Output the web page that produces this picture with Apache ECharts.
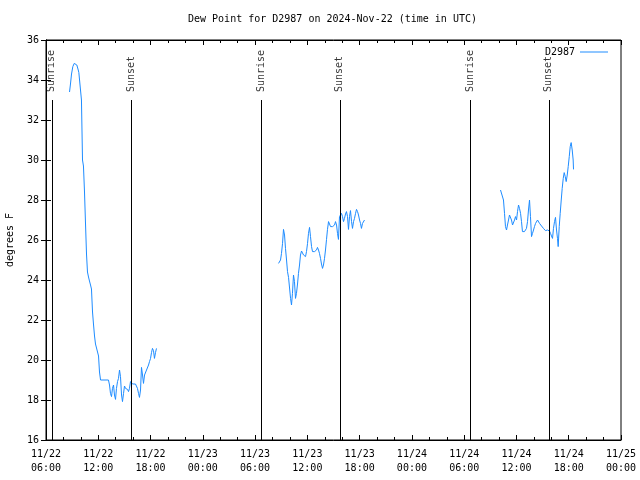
<!DOCTYPE html>
<html><head><meta charset="utf-8">
<script src="https://cdn.jsdelivr.net/npm/echarts@6/dist/echarts.min.js"></script>
<style>html,body{margin:0;padding:0;background:#fff}#c{width:640px;height:480px}</style>
</head><body><div id="c"></div>
<script>
// hours after 2024-11-22 06:00 UTC
const hours1 = [2.70,2.81,2.93,3.08,3.24,3.39,3.54,3.70,3.77,3.96,4.07,4.19,4.30,4.42,4.53,4.65,4.76,4.88,4.99,5.11,5.22,5.34,5.45,5.57,5.68,5.80,5.91,6.03,6.14,6.26,7.17,7.29,7.40,7.52,7.63,7.75,7.86,7.98,8.09,8.21,8.32,8.44,8.55,8.67,8.78,8.90,9.01,9.13,9.24,9.36,9.47,9.58,9.70,9.81,9.93,10.04,10.27,10.39,10.50,10.62,10.73,10.85,10.96,11.08,11.19,11.31,11.42,11.54,11.65,11.77,11.88,12.00,12.11,12.22,12.34,12.45,12.57,12.68];
const dew1 = [33.4,33.8,34.3,34.67,34.83,34.92,34.75,34.5,34.37,34.33,33.0,30.0,29.7,28.4,26.9,25.3,24.4,24.15,23.95,23.75,23.55,22.4,21.8,21.2,20.8,20.6,20.5,20.2,19.4,19.0,19.0,18.75,18.33,18.17,18.58,18.75,18.25,18.03,18.58,18.92,19.08,19.5,19.17,18.25,17.92,18.33,18.7,18.58,18.63,18.53,18.42,18.58,18.92,18.83,18.8,18.8,18.8,18.75,18.58,18.33,18.13,18.5,19.63,19.25,18.83,19.25,19.33,19.5,19.58,19.75,19.92,20.08,20.37,20.58,20.47,20.08,20.37,20.58];
const hours2 = [26.69,26.92,27.03,27.15,27.26,27.38,27.49,27.61,27.72,27.84,27.95,28.07,28.18,28.29,28.41,28.52,28.64,28.75,28.87,28.98,29.10,29.21,29.33,29.44,29.56,29.67,29.79,29.90,30.02,30.13,30.25,30.36,30.48,30.59,30.82,31.05,31.16,31.28,31.39,31.51,31.62,31.74,31.85,31.97,32.08,32.20,32.31,32.43,32.54,32.66,32.89,33.00,33.12,33.23,33.35,33.46,33.57,33.69,33.80,33.92,34.03,34.15,34.26,34.38,34.49,34.61,34.72,34.84,34.95,35.07,35.18,35.30,35.41,35.53,35.64,35.76,35.87,35.99,36.10,36.21,36.33,36.44,36.56];
const dew2 = [24.83,25.0,25.33,25.83,26.53,26.25,25.58,25.0,24.42,24.13,24.03,23.08,22.75,23.33,24.25,23.92,23.08,23.33,23.8,24.33,24.75,25.25,25.45,25.42,25.25,25.17,25.17,25.42,25.83,26.33,26.63,26.17,25.67,25.42,25.42,25.5,25.63,25.5,25.33,25.08,24.8,24.58,24.75,25.08,25.5,26.03,26.53,26.92,26.83,26.67,26.67,26.67,26.75,26.92,26.75,26.33,26.03,27.17,27.25,27.33,27.17,26.92,27.08,27.3,27.42,27.17,26.53,27.17,27.47,26.92,26.58,26.92,27.08,27.33,27.53,27.42,27.25,27.0,26.83,26.58,26.83,26.92,27.0];
const hours3 = [52.17,52.36,52.51,52.63,52.74,52.86,52.97,53.09,53.20,53.32,53.43,53.55,53.66,53.78,53.89,54.01,54.12,54.24,54.35,54.47,54.58,54.69,54.81,54.92,55.04,55.15,55.27,55.38,55.50,55.61,55.73,55.84,55.96,56.07,56.19,56.30,56.42,56.53,56.65,56.88,57.10,57.33,57.45,57.56,57.68,57.79,57.91,58.02,58.14,58.25,58.37,58.48,58.60,58.71,58.79,58.91,59.02,59.14,59.25,59.37,59.48,59.60,59.71,59.83,59.94,60.06,60.17,60.28,60.40,60.51,60.55];
const dew3 = [28.5,28.42,28.0,27.33,26.67,26.5,26.75,27.0,27.25,27.17,27.0,26.75,26.67,27.0,27.17,27.0,27.42,27.75,27.58,27.33,26.92,26.42,26.37,26.42,26.5,26.58,26.92,27.5,28.0,27.17,26.17,26.33,26.5,26.67,26.83,26.92,27.0,26.97,26.83,26.7,26.58,26.47,26.37,26.5,26.53,26.45,26.33,26.2,26.08,26.58,26.92,27.13,26.5,26.08,25.67,26.67,27.33,28.0,28.58,29.08,29.37,29.17,28.92,29.25,29.67,30.17,30.67,30.87,30.5,30.0,29.53];
const sunriseHours = [0.67, 24.70, 48.73];
const sunsetHours = [9.78, 33.72, 57.71];
const seriesName = 'D2987';
const titleText = 'Dew Point for D2987 on 2024-Nov-22 (time in UTC)';
const yName = 'degrees F';

const FONT = 'DejaVu Sans Mono';
const BLUE = '#1e8cff';
const pairs = (h, v) => h.map((x, i) => [x, v[i]]);
const pad = n => (n < 10 ? '0' : '') + n;
function fmtX(v) {
  const t = 6 + v;
  const day = 22 + Math.floor(t / 24);
  const hh = Math.round(t % 24);
  return '11/' + day + '\n' + pad(hh) + ':00';
}
const lineTop = 33.0;
const sunData = [];
sunriseHours.forEach(h => sunData.push({ value: [h, lineTop], name: 'Sunrise' }));
sunsetHours.forEach(h => sunData.push({ value: [h, lineTop], name: 'Sunset' }));

const lineSeries = [[hours1, dew1], [hours2, dew2], [hours3, dew3]].map(([h, v]) => ({
  name: seriesName, type: 'line', xAxisIndex: 0, yAxisIndex: 0,
  data: pairs(h, v), showSymbol: false, symbol: 'none',
  lineStyle: { color: BLUE, width: 1 }, itemStyle: { color: BLUE },
  z: 3
}));

const chart = echarts.init(document.getElementById('c'), null, { renderer: 'canvas' });
chart.setOption({
  animation: false,
  backgroundColor: '#fff',
  title: {
    text: titleText, left: 183, top: 9,
    textStyle: { fontFamily: FONT, fontSize: 10, fontWeight: 'normal', color: '#000' }
  },
  legend: {
    data: [{ name: seriesName, icon: 'rect' }],
    right: 27, top: 42, align: 'right',
    itemWidth: 28, itemHeight: 1,
    textStyle: { fontFamily: FONT, fontSize: 10, color: '#000' }
  },
  grid: { left: 46, right: 19, top: 40, bottom: 40, show: true, borderColor: '#000', borderWidth: 1,
          containLabel: false, outerBoundsMode: 'none' },
  xAxis: [
    {
      type: 'value', min: 0, max: 66, interval: 6, position: 'bottom',
      axisLine: { lineStyle: { color: '#000' } },
      axisTick: { inside: true, length: 5, lineStyle: { color: '#000' } },
      minorTick: { show: true, splitNumber: 3, length: 3, lineStyle: { color: '#000' } },
      splitLine: { show: false },
      axisLabel: { formatter: fmtX, fontFamily: FONT, fontSize: 10, color: '#000', lineHeight: 14, margin: 7 }
    },
    {
      type: 'value', min: 0, max: 66, interval: 6, position: 'top',
      axisLine: { lineStyle: { color: '#000' } },
      axisTick: { inside: true, length: 5, lineStyle: { color: '#000' } },
      minorTick: { show: true, splitNumber: 3, length: 3, lineStyle: { color: '#000' } },
      splitLine: { show: false }, axisLabel: { show: false }
    }
  ],
  yAxis: [
    {
      type: 'value', min: 16, max: 36, interval: 2, position: 'left',
      name: yName, nameLocation: 'middle', nameGap: 31,
      nameTextStyle: { fontFamily: FONT, fontSize: 10, color: '#000' },
      axisLine: { show: true, lineStyle: { color: '#000' } },
      axisTick: { show: true, inside: true, length: 5, lineStyle: { color: '#000' } },
      splitLine: { show: false },
      axisLabel: { fontFamily: FONT, fontSize: 10, color: '#000', margin: 7 }
    },
    {
      type: 'value', min: 16, max: 36, interval: 2, position: 'right',
      axisLine: { show: true, lineStyle: { color: '#000' } },
      axisTick: { show: true, inside: true, length: 5, lineStyle: { color: '#000' } },
      splitLine: { show: false }, axisLabel: { show: false }
    }
  ],
  series: lineSeries.concat([{
    name: 'sun', type: 'scatter', xAxisIndex: 0, yAxisIndex: 0,
    data: sunData, symbolSize: 0, silent: true,
    label: {
      show: true, position: 'top', distance: 8, rotate: 90,
      align: 'left', verticalAlign: 'middle',
      formatter: p => p.name,
      fontFamily: FONT, fontSize: 10, color: '#000'
    },
    markLine: {
      silent: true, symbol: ['none', 'none'], label: { show: false },
      lineStyle: { color: '#000', type: 'solid', width: 1 },
      data: sunData.map(d => [{ coord: [d.value[0], 16] }, { coord: [d.value[0], lineTop] }])
    }
  }])
});
</script></body></html>
